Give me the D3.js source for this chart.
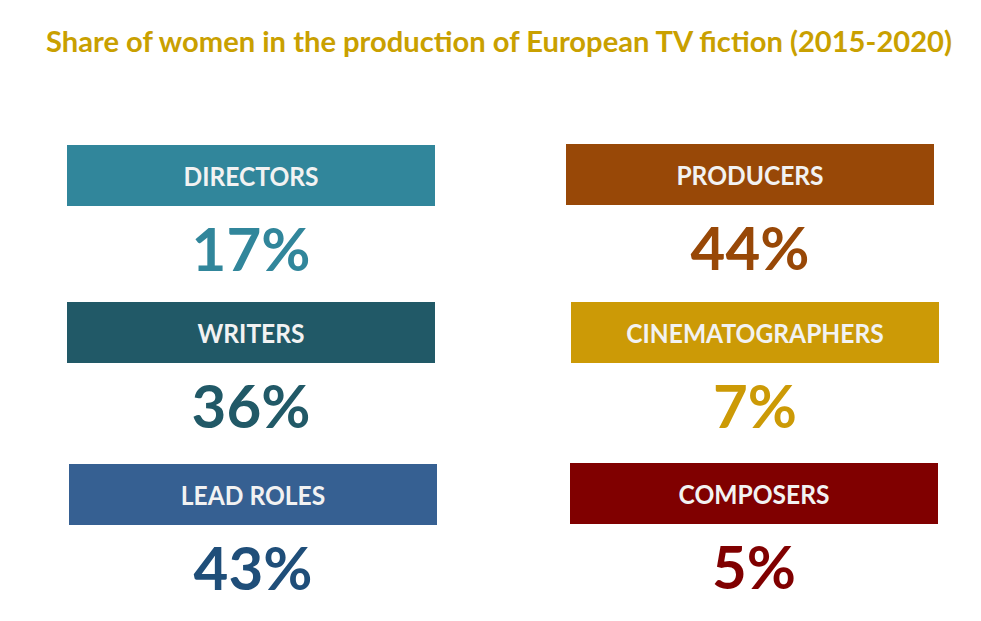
<!DOCTYPE html>
<html>
<head>
<meta charset="utf-8">
<script src="https://cdn.jsdelivr.net/npm/d3@7"></script>
<style>
  html, body { margin: 0; padding: 0; background: #ffffff; }
  svg { display: block; }
</style>
</head>
<body>
<svg id="chart" width="981" height="621"></svg>
<script>
// ---- data ----
const categories = ["DIRECTORS", "WRITERS", "LEAD ROLES", "PRODUCERS", "CINEMATOGRAPHERS", "COMPOSERS"];
const values = [17, 36, 43, 44, 7, 5];
const boxColors = ["#31869B", "#215967", "#366092", "#984807", "#CC9A06", "#800000"];
const valueColors = ["#31869B", "#215967", "#1F4E79", "#984807", "#CC9A06", "#800000"];
const titleText = "Share of women in the production of European TV fiction (2015-2020)";

// ---- layout (positions only) ----
const boxLeft = [67, 67, 69, 566, 571, 570];
const boxTop = [145, 302, 464, 144, 302, 463];
const boxW = 368, boxH = 61;
const valueGap = 65; // baseline of value below box bottom

const svg = d3.select("#chart");
const font = "Lato, 'Noto Sans', sans-serif";

// title
const title = svg.append("text")
  .attr("x", 499).attr("y", 52)
  .attr("text-anchor", "middle")
  .attr("font-family", font).attr("font-weight", 700)
  .attr("font-size", 29).attr("fill", "#C9A000")
  .text(titleText);
title.attr("textLength", 906).attr("lengthAdjust", "spacingAndGlyphs");

const idx = d3.range(categories.length);
const xScale = d3.scaleOrdinal().domain(categories).range(boxLeft);
const yScale = d3.scaleOrdinal().domain(categories).range(boxTop);
const fill = d3.scaleOrdinal().domain(categories).range(boxColors);
const vfill = d3.scaleOrdinal().domain(categories).range(valueColors);

const g = svg.selectAll("g.item").data(idx).join("g").attr("class", "item");

g.append("rect")
  .attr("x", i => xScale(categories[i]))
  .attr("y", i => yScale(categories[i]))
  .attr("width", boxW).attr("height", boxH)
  .attr("fill", i => fill(categories[i]));

g.append("text")
  .attr("x", i => xScale(categories[i]) + boxW / 2)
  .attr("y", i => yScale(categories[i]) + boxH / 2 + 10)
  .attr("text-anchor", "middle")
  .attr("font-family", font).attr("font-weight", 700)
  .attr("font-size", 27).attr("fill", "#F2F2F2")
  .text(i => categories[i])
  .each(function () {
    const w = this.getComputedTextLength();
    d3.select(this).attr("textLength", w * 0.91).attr("lengthAdjust", "spacingAndGlyphs");
  });

g.append("text")
  .attr("x", i => xScale(categories[i]) + boxW / 2)
  .attr("y", i => yScale(categories[i]) + boxH + valueGap)
  .attr("text-anchor", "middle")
  .attr("font-family", font).attr("font-weight", 700)
  .attr("font-size", 60).attr("fill", i => vfill(categories[i]))
  .text(i => values[i] + "%");
</script>
</body>
</html>
